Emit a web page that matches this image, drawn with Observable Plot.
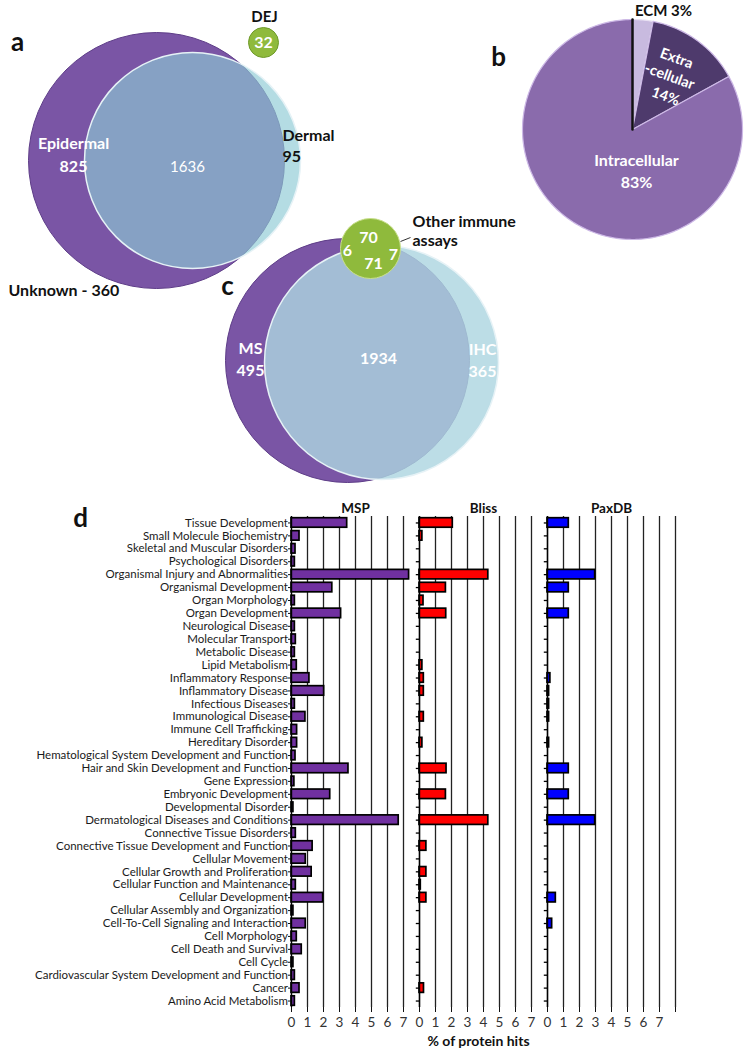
<!DOCTYPE html>
<html>
<head>
<meta charset="utf-8">
<script src="https://cdn.jsdelivr.net/npm/d3@7"></script>
<script src="https://cdn.jsdelivr.net/npm/@observablehq/plot@0.6"></script>
<style>
  html, body { margin: 0; padding: 0; background: #fff; }
  #chart { width: 750px; height: 1055px; position: relative; }
  #chart svg { display: block; }
</style>
</head>
<body>
<div id="chart"></div>
<script>
// ---------------- DATA ----------------
// Panel a: Venn of tissue localisation
const vennASets = ["Epidermal", "Dermal", "DEJ"];
const vennACounts = [825, 95, 32];
const vennAOverlap = 1636;
const vennAUnknown = 360;

// Panel b: pie of cellular localisation (%)
const pieLabels = ["ECM", "Extra-cellular", "Intracellular"];
const pieValues = [3, 14, 83];

// Panel c: Venn of detection methods
const vennCSets = ["MS", "IHC", "Other immune assays"];
const vennCCounts = [495, 365, 70];
const vennCOverlap = 1934;
const vennCOtherOverlaps = [6, 71, 7]; // with MS, all three, with IHC

// Panel d: % of protein hits per IPA category
const categories = [
  "Tissue Development", "Small Molecule Biochemistry", "Skeletal and Muscular Disorders",
  "Psychological Disorders", "Organismal Injury and Abnormalities", "Organismal Development",
  "Organ Morphology", "Organ Development", "Neurological Disease", "Molecular Transport",
  "Metabolic Disease", "Lipid Metabolism", "Inflammatory Response", "Inflammatory Disease",
  "Infectious Diseases", "Immunological Disease", "Immune Cell Trafficking", "Hereditary Disorder",
  "Hematological System Development and Function", "Hair and Skin Development and Function",
  "Gene Expression", "Embryonic Development", "Developmental Disorder",
  "Dermatological Diseases and Conditions", "Connective Tissue Disorders",
  "Connective Tissue Development and Function", "Cellular Movement",
  "Cellular Growth and Proliferation", "Cellular Function and Maintenance", "Cellular Development",
  "Cellular Assembly and Organization", "Cell-To-Cell Signaling and Interaction", "Cell Morphology",
  "Cell Death and Survival", "Cell Cycle", "Cardiovascular System Development and Function",
  "Cancer", "Amino Acid Metabolism"
];
const sources = ["MSP", "Bliss", "PaxDB"];
const mspValues = [3.48, 0.5, 0.25, 0.21, 7.35, 2.55, 0.21, 3.1, 0.21, 0.27, 0.21, 0.33, 1.12, 2.04,
  0.21, 0.87, 0.35, 0.35, 0.25, 3.56, 0.18, 2.42, 0.12, 6.7, 0.27, 1.32, 0.89, 1.26, 0.27, 1.98,
  0.12, 0.89, 0.33, 0.64, 0.12, 0.21, 0.5, 0.21];
const blissValues = [2.08, 0.18, 0, 0, 4.3, 1.65, 0.25, 1.67, 0, 0, 0, 0.18, 0.27, 0.27,
  0, 0.27, 0, 0.18, 0, 1.69, 0, 1.65, 0, 4.3, 0, 0.43, 0, 0.43, 0.08, 0.43,
  0, 0, 0, 0, 0, 0, 0.28, 0];
const paxdbValues = [1.33, 0, 0, 0, 2.98, 1.33, 0, 1.33, 0, 0, 0, 0, 0.18, 0.1,
  0.1, 0.1, 0, 0.1, 0, 1.33, 0, 1.33, 0, 2.98, 0, 0, 0, 0, 0, 0.52,
  0, 0.29, 0, 0, 0, 0, 0, 0];
const xTicks = [0, 1, 2, 3, 4, 5, 6, 7, 8];

// ---------------- STYLE / LAYOUT ----------------
const FONT = "Lato, 'Open Sans', sans-serif";
const col = {
  purple: "#7a55a5", blueA: "rgb(140,201,212)", blueC: "rgb(172,213,224)", green: "#8fba3c",
  ecm: "#c8badf", extra: "#4e3a6c", intra: "#8a6bac"
};
const barColors = {MSP: "#7030a0", Bliss: "#ff0000", PaxDB: "#0000ff"};
const LA = {epi: {x: 156, y: 160, r: 128}, derm: {x: 192, y: 160, r: 108}, dej: {x: 263, y: 42, r: 15}};
const LB = {x: 632, y: 129, r: 110};
const LC = {ms: {x: 347, y: 360, r: 122}, ihc: {x: 381, y: 362, r: 117}, other: {x: 370, y: 248, r: 30}};

// ---------------- TOP (a, b, c) ----------------
const circle = (c, opts) => Plot.dot([c], {x: "x", y: "y", r: c.r, ...opts});

// pie slices from values
const arcs = d3.pie().sort(null)(pieValues);
const sliceColors = [col.ecm, col.extra, col.intra];
const slicePts = arcs.map((a, i) => {
  const pts = [{x: LB.x, y: LB.y}];
  const n = Math.max(4, Math.ceil((a.endAngle - a.startAngle) / 0.02));
  for (let k = 0; k <= n; k++) {
    const t = a.startAngle + (a.endAngle - a.startAngle) * k / n;
    pts.push({x: LB.x + LB.r * Math.sin(t), y: LB.y - LB.r * Math.cos(t)});
  }
  pts.push({x: LB.x, y: LB.y});
  return pts;
});
const sliceMarks = slicePts.map((pts, i) =>
  Plot.line(pts, {x: "x", y: "y", fill: sliceColors[i], stroke: i === 0 ? "#e8e0f2" : "#cdb9e6", strokeWidth: 1.2}));
// dark edge at 12 o'clock
const edge = [{x: LB.x, y: LB.y}, {x: LB.x, y: LB.y - LB.r}];

const T = (x, y, text, o = {}) => ({x, y, text, ...o});
const whiteBold = [
  T(73, 143, vennASets[0]), T(73, 166, String(vennACounts[0])),
  T(LA.dej.x, LA.dej.y, String(vennACounts[2])),
  T(636, 160, pieLabels[2]), T(636, 182, pieValues[2] + "%"),
  T(368, 237, String(vennCCounts[2])), T(347, 250, String(vennCOtherOverlaps[0])),
  T(373, 263, String(vennCOtherOverlaps[1])), T(393, 254, String(vennCOtherOverlaps[2])),
  T(250, 348, vennCSets[0]), T(250, 370, String(vennCCounts[0])),
  T(378, 358, String(vennCOverlap)),
  T(482, 349, vennCSets[1]), T(482, 371, String(vennCCounts[1]))
];
const extraText = [
  T(676, 58, "Extra"), T(669, 76, "-cellular"), T(665, 96, pieValues[1] + "%")
];
const blackBoldLeft = [
  T(282, 135, vennASets[1]), T(282, 156, String(vennACounts[1])),
  T(8, 290, "Unknown - " + vennAUnknown),
  T(412, 221, "Other immune"), T(412, 240, "assays")
];
const blackBoldMid = [
  T(264, 17, vennASets[2]), T(663, 11, pieLabels[0] + " " + pieValues[0] + "%")
];
const panelLetters = [T(17, 42, "a"), T(498, 57, "b"), T(227, 286, "c")];

const topPlot = Plot.plot({
  width: 750, height: 490, margin: 0,
  x: {domain: [0, 750], range: [0, 750], axis: null},
  y: {domain: [0, 490], range: [0, 490], axis: null},
  style: {fontFamily: FONT, background: "white", overflow: "visible"},
  marks: [
    // a
    circle(LA.epi, {fill: col.purple, stroke: "#5e3d88", strokeWidth: 1}),
    circle(LA.derm, {fill: col.blueA, fillOpacity: 0.655, stroke: "#e6f2f6", strokeWidth: 1.5}),
    circle(LA.dej, {fill: col.green, stroke: "#6f9a2a", strokeWidth: 1}),
    // c
    circle(LC.ms, {fill: col.purple, stroke: "#5e3d88", strokeWidth: 1}),
    circle(LC.ihc, {fill: col.blueC, fillOpacity: 0.81, stroke: "#e6f2f6", strokeWidth: 1.5}),
    circle(LC.other, {fill: col.green, stroke: "#c9e08e", strokeWidth: 1}),
    Plot.link([{x1: 400, y1: 241, x2: 410, y2: 237}], {x1: "x1", y1: "y1", x2: "x2", y2: "y2", stroke: "#333", strokeWidth: 1}),
    // b
    ...sliceMarks,
    Plot.line(edge, {x: "x", y: "y", stroke: "#111", strokeWidth: 2.5}),
    // text
    Plot.text(whiteBold, {x: "x", y: "y", text: "text", fill: "white", fontSize: 16, fontWeight: "bold"}),
    Plot.text([T(187, 167, String(vennAOverlap))], {x: "x", y: "y", text: "text", fill: "white", fontSize: 15}),
    Plot.text(extraText, {x: "x", y: "y", text: "text", fill: "white", fontSize: 14.5, fontWeight: "bold", rotate: 20}),
    Plot.text(blackBoldLeft, {x: "x", y: "y", text: "text", fill: "#111", fontSize: 16, fontWeight: "bold", textAnchor: "start"}),
    Plot.text(blackBoldMid, {x: "x", y: "y", text: "text", fill: "#111", fontSize: 15, fontWeight: "bold"}),
    Plot.text(panelLetters, {x: "x", y: "y", text: "text", fill: "#111", fontSize: 26, fontWeight: "bold"})
  ]
});

// ---------------- BOTTOM (d) ----------------
const valueBySource = {MSP: mspValues, Bliss: blissValues, PaxDB: paxdbValues};
const rows = sources.flatMap(s => categories.map((c, j) => ({source: s, category: c, value: valueBySource[s][j]})));
const grid = sources.flatMap(s => xTicks.slice(1).map(x => ({source: s, x})));
const zeros = sources.map(s => ({source: s, x: 0}));
const sideTicks = sources.slice(1).flatMap(s => categories.map(c => ({source: s, category: c})));

const bottomPlot = Plot.plot({
  width: 750, height: 565,
  marginLeft: 291, marginRight: 75, marginTop: 26, marginBottom: 48,
  style: {fontFamily: FONT, background: "white", color: "#111", overflow: "visible"},
  fx: {domain: sources, padding: 0, axis: null},
  x: {domain: [0, 8]},
  y: {domain: categories, padding: 0},
  marks: [
    Plot.ruleX(grid, {x: "x", fx: "source", stroke: "#222", strokeWidth: 1.3}),
    Plot.barX(rows.filter(d => d.value > 0), {
      x: "value", y: "category", fx: "source",
      fill: d => barColors[d.source], stroke: "#000", strokeWidth: 1.7,
      insetTop: 1.7, insetBottom: 1.7
    }),
    Plot.ruleX(zeros, {x: "x", fx: "source", stroke: "#000", strokeWidth: 1.4}),
    Plot.ruleY(sideTicks, {y: "category", fx: "source", x1: -0.2, x2: 0, stroke: "#000", strokeWidth: 1.3}),
    Plot.axisY({tickSize: 3, tickPadding: 0.5, fontSize: 11.5, label: null, fill: "#1a1a1a"}),
    Plot.axisX({ticks: xTicks, tickFormat: d => d < 8 ? String(d) : "", tickSize: 5, tickPadding: 5,
      fontSize: 13.5, line: true, label: null, fill: "#333"}),
    Plot.text(sources.map(s => ({source: s})), {fx: "source", frameAnchor: "top", dy: -13,
      text: "source", fontWeight: "bold", fontSize: 13.5, fill: "#111"}),
    Plot.text([{source: "Bliss"}], {fx: "source", frameAnchor: "bottom", dy: 38, dx: -5,
      text: () => "% of protein hits", fontWeight: "bold", fontSize: 14, fill: "#111"}),
    Plot.text([{source: "MSP"}], {fx: "source", frameAnchor: "top-left", dx: -211, dy: -8,
      text: () => "d", textAnchor: "middle", fontWeight: "bold", fontSize: 26, fill: "#111"})
  ]
});

const chart = document.getElementById("chart");
chart.append(topPlot, bottomPlot);
</script>
</body>
</html>
